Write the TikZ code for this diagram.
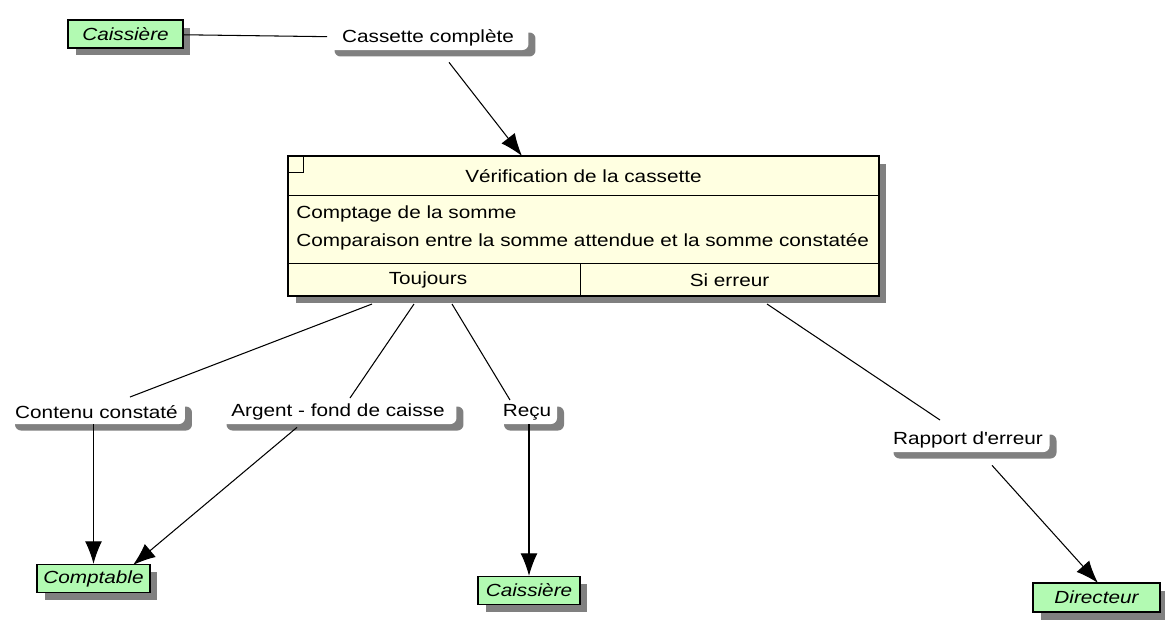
\documentclass[tikz,border=0pt]{standalone}
\usepackage{fontspec}
\setmainfont[FakeStretch=1.18]{Liberation Sans}
\usetikzlibrary{arrows.meta, shadows}

\definecolor{vert}{RGB}{178,250,178}
\definecolor{creme}{RGB}{255,255,225}
\definecolor{ombre}{RGB}{128,128,128}

\begin{document}
\begin{tikzpicture}[x=0.02cm, y=-0.02cm, font=\fontsize{10}{12}\selectfont]
            \tikzset{acteur/.style = {shape=rectangle,draw,thick,fill=vert,font=\fontsize{10}{12}\selectfont\itshape,
                    minimum height=0.56cm,inner sep=0pt,
                    drop shadow={shadow xshift=0.15cm,shadow yshift=-0.15cm,fill=ombre,opacity=1}}}
            \tikzset{flux/.style = {shape=rectangle,rounded corners=0.12cm,fill=white,minimum height=0.48cm,inner sep=0pt,
                    drop shadow={shadow xshift=0.14cm,shadow yshift=-0.13cm,fill=ombre,opacity=1}}}
            \tikzset{edge/.style = {-,semithick}}
            \tikzset{fleche/.style = {-{Latex[length=4.5mm,width=3.4mm]},semithick}}

            \useasboundingbox (0,0) rectangle (1165,619);

            % acteurs
            \node[acteur,minimum width=2.3cm] (caisse1) at (125.5, 34) {Caissière};
            \node[acteur,minimum width=2.26cm] (comptable) at (93.5, 578.5) {Comptable};
            \node[acteur,minimum width=2.04cm] (caisse2) at (529, 590.5) {Caissière};
            \node[acteur,minimum width=2.54cm,minimum height=0.58cm] (directeur) at (1096.5, 597.5) {Directeur};

            % flux
            \node[flux,minimum width=4.02cm] (cassette) at (428, 38) {Cassette complète};
            \node[flux,minimum width=3.54cm] (contenu) at (96.5, 412) {Contenu constaté};
            \node[flux,minimum width=4.74cm] (argent) at (338, 412) {Argent - fond de caisse};
            \node[flux,minimum width=1.2cm] (recu) at (527, 412) {Reçu};
            \node[flux,minimum width=3.26cm] (rapport) at (968, 440) {Rapport d\textquotesingle erreur};

            % operation
            \node[draw,thick,fill=creme,minimum width=11.82cm,minimum height=2.8cm,inner sep=0pt,
                  drop shadow={shadow xshift=0.15cm,shadow yshift=-0.15cm,fill=ombre,opacity=1}] (verif) at (583.5, 226) {};
            \draw (288,172) -| (303,156);
            \draw (288,195) -- (879,195);
            \draw (288,263) -- (879,263);
            \draw (580,263) -- (580,296);
            \node (titre) at (583.5, 176) {Vérification de la cassette};
            \node[anchor=west,align=left,inner sep=0pt] (actions) at (296, 228)
                {Comptage de la somme\\[0.13cm]Comparaison entre la somme attendue et la somme constatée};
            \node (toujours) at (428, 280) {Toujours};
            \node (sierreur) at (729.5, 280) {Si erreur};

            \coordinate (s1) at (372, 304);
            \coordinate (s2) at (414, 304);
            \coordinate (s3) at (452, 304);
            \coordinate (s4) at (767, 304);

            \draw[edge] (caisse1) to (cassette);
            \draw[fleche] (cassette.south) ++(21,12) to (522,156);
            \draw[edge] (s1) to (130,397);
            \draw[edge] (s2) to (350,398);
            \draw[edge] (s3) to (510,400);
            \draw[edge] (s4) to (940,420);

            \draw[fleche] (contenu.south -| comptable.north) to (comptable.north);
            \draw[fleche] (argent.south) ++(-41,3) to (133,565);
            \draw[fleche] (recu.south -| caisse2.north) to (caisse2.north);
            \draw[fleche] (rapport.south) ++(24,13) to (1098,583);
          \end{tikzpicture}
\end{document}
